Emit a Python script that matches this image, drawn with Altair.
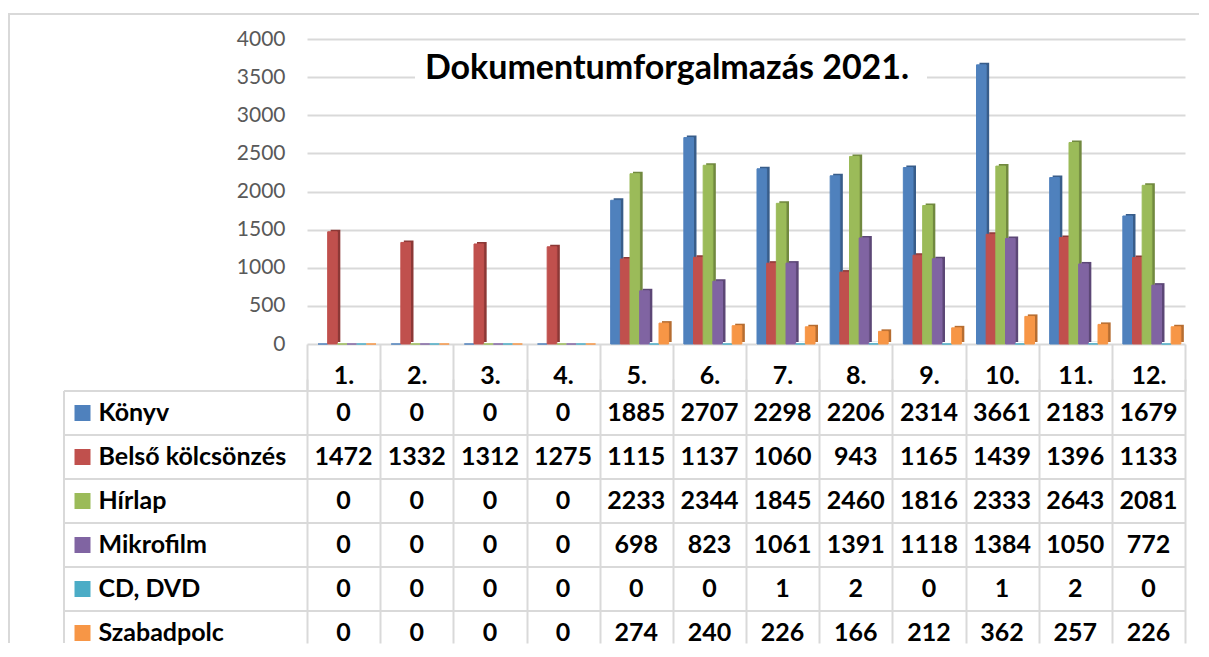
import altair as alt
import pandas as pd

months = ["1.", "2.", "3.", "4.", "5.", "6.", "7.", "8.", "9.", "10.", "11.", "12."]
series = ["Könyv", "Belső kölcsönzés", "Hírlap", "Mikrofilm", "CD, DVD", "Szabadpolc"]
konyv = [0, 0, 0, 0, 1885, 2707, 2298, 2206, 2314, 3661, 2183, 1679]
belso = [1472, 1332, 1312, 1275, 1115, 1137, 1060, 943, 1165, 1439, 1396, 1133]
hirlap = [0, 0, 0, 0, 2233, 2344, 1845, 2460, 1816, 2333, 2643, 2081]
mikrofilm = [0, 0, 0, 0, 698, 823, 1061, 1391, 1118, 1384, 1050, 772]
cddvd = [0, 0, 0, 0, 0, 0, 1, 2, 0, 1, 2, 0]
szabadpolc = [0, 0, 0, 0, 274, 240, 226, 166, 212, 362, 257, 226]
title_text = "Dokumentumforgalmazás 2021."
y_ticks = [0, 500, 1000, 1500, 2000, 2500, 3000, 3500, 4000]

front_colors = ["#4F81BD", "#C0504D", "#9BBB59", "#8064A2", "#4BACC6", "#F79646"]
side_colors = ["#385D8A", "#8C3836", "#71893F", "#5C4776", "#357D91", "#B66D31"]

all_values = [konyv, belso, hirlap, mikrofilm, cddvd, szabadpolc]
rows = []
for s, vals in zip(series, all_values):
    for m, v in zip(months, vals):
        rows.append({"month": m, "series": s, "value": v, "label": str(v)})
df = pd.DataFrame(rows)
series_df = pd.DataFrame({"series": series})
one = pd.DataFrame({"t": [title_text]})

FONT = "Lato"
GRID = "#d9d9d9"
W = 888
H = 305
HB = 252

xscale = alt.Scale(domain=months, range=[0, 878], paddingInner=0, paddingOuter=0)

# ---------------- top chart (columns) ----------------
x_top = alt.X(
    "month:N", sort=months, scale=xscale,
    axis=alt.Axis(
        title=None, domain=False, grid=False, tickBand="extent", tickSize=47,
        tickColor=GRID, tickWidth=2, labelAngle=0, labelFont=FONT, labelFontSize=25,
        labelFontWeight="bold", labelColor="black", labelPadding=-28,
    ),
)
y_top = alt.Y(
    "value:Q", scale=alt.Scale(domain=[0, 4000]),
    axis=alt.Axis(
        title=None, values=y_ticks, format="d", grid=True, gridColor=GRID, gridWidth=2,
        ticks=False, domain=False, labelFont=FONT, labelFontSize=21,
        labelColor="#595959", labelPadding=22,
    ),
)

side = alt.Chart(df).mark_bar(yOffset=-2, y2Offset=-2).encode(
    x=x_top,
    y=y_top,
    xOffset=alt.XOffset("series:N", sort=series,
                        scale=alt.Scale(domain=series, range=[14, 72], paddingInner=0, paddingOuter=0)),
    color=alt.Color("series:N", sort=series,
                    scale=alt.Scale(domain=series, range=side_colors), legend=None),
)
front = alt.Chart(df).mark_bar(strokeWidth=1).encode(
    x=x_top,
    y=y_top,
    xOffset=alt.XOffset("series:N", sort=series,
                        scale=alt.Scale(domain=series, range=[11, 69], paddingInner=0, paddingOuter=0)),
    fill=alt.Fill("series:N", sort=series,
                  scale=alt.Scale(domain=series, range=front_colors), legend=None),
    stroke=alt.Stroke("series:N", sort=series,
                      scale=alt.Scale(domain=series, range=front_colors), legend=None),
)
title_bg = alt.Chart(one).mark_rect(color="white").encode(
    x=alt.value(108), x2=alt.value(620), y=alt.value(16), y2=alt.value(52)
)
title = alt.Chart(one).mark_text(
    font=FONT, fontSize=34, fontWeight="bold", color="black", baseline="middle", align="center"
).encode(x=alt.value(360), y=alt.value(30), text="t:N")
frame_top = alt.Chart(one).mark_rect(color=GRID).encode(
    x=alt.value(-299), x2=alt.value(892), y=alt.value(-26), y2=alt.value(-24)
)

top = alt.layer(side, front, title_bg, title, frame_top).resolve_scale(
    xOffset="independent", color="independent"
).properties(width=W, height=H)

# ---------------- bottom chart (data table) ----------------
x_b = alt.X(
    "month:N", sort=months, scale=xscale,
    axis=alt.Axis(title=None, labels=False, ticks=False, domain=False, grid=True,
                  gridColor=GRID, gridWidth=2, tickBand="extent"),
)
yscale_b = alt.Scale(domain=series, range=[0, 264], paddingInner=0, paddingOuter=0)
y_axis_b = alt.Axis(
    title=None, labelAlign="left", labelPadding=209, ticks=False, domain=False, grid=False,
    labelFont=FONT, labelFontSize=25, labelFontWeight="bold", labelColor="black", labelLimit=300,
)
y_b = alt.Y("series:N", sort=series, scale=yscale_b, axis=y_axis_b)

cells = alt.Chart(df).mark_text(
    font=FONT, fontSize=25, fontWeight="bold", color="black", baseline="middle"
).encode(x=x_b, y=y_b, text="label:N")

row_lines = alt.Chart(series_df).mark_rule(color=GRID, strokeWidth=2).encode(
    y=alt.Y("series:N", sort=series, scale=yscale_b, axis=y_axis_b, bandPosition=0),
    x=alt.value(-243), x2=alt.value(878),
)
left_line = alt.Chart(one).mark_rect(color=GRID).encode(
    x=alt.value(-244), x2=alt.value(-242), y=alt.value(0), y2=alt.value(HB)
)
frame_left = alt.Chart(one).mark_rect(color=GRID).encode(
    x=alt.value(-299), x2=alt.value(-297), y=alt.value(-378), y2=alt.value(HB)
)
squares = alt.Chart(series_df).mark_square(size=256, filled=True, opacity=1).encode(
    x=alt.value(-224.5),
    y=y_b,
    color=alt.Color("series:N", sort=series,
                    scale=alt.Scale(domain=series, range=front_colors), legend=None),
)

bottom = alt.layer(row_lines, left_line, frame_left, cells, squares).properties(width=W, height=HB)

chart = alt.vconcat(top, bottom, spacing=47, bounds="flush").resolve_scale(
    x="independent", y="independent", color="independent"
).properties(
    padding={"left": 0, "top": 5, "right": 0, "bottom": 0},
    background="white",
).configure_view(strokeWidth=0, stroke="white")

chart.save("out.html", embed_options={"renderer": "svg", "actions": False})
